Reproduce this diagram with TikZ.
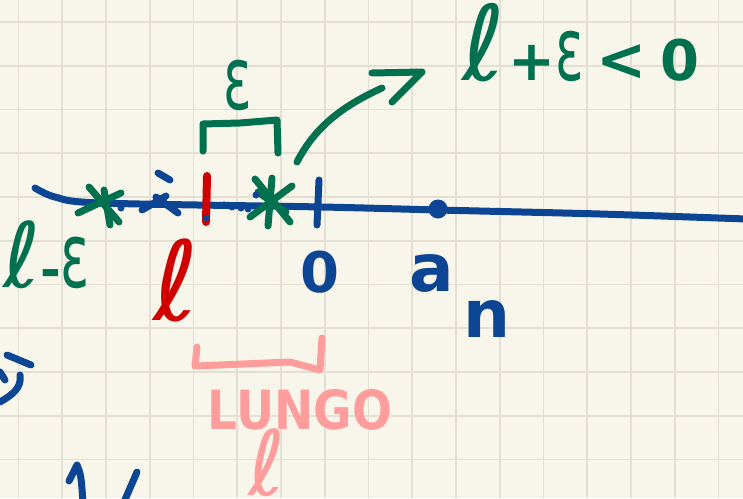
\documentclass[tikz,border=0pt]{standalone}
\usepackage{fontspec}
\setmainfont{DejaVu Sans}
\usepackage{graphicx}
\usepackage{xcolor}
\definecolor{paper}{HTML}{F8F6EB}
\definecolor{gridline}{HTML}{E3E0D3}
\definecolor{inkgreen}{HTML}{00714F}
\definecolor{inkblue}{HTML}{0B4593}
\definecolor{inkred}{HTML}{D10000}
\definecolor{inkpink}{HTML}{FF9D9D}
\usepackage{tikz}
\usetikzlibrary{arrows.meta, calc}
\newcommand{\hand}[1]{\fontsize{#1}{#1}\selectfont}
\newcommand{\handb}[1]{\fontsize{#1}{#1}\selectfont\bfseries}
\newcommand{\neps}[1]{\scalebox{0.6}[1]{\hand{#1}ε}}

\begin{document}
\begin{tikzpicture}[
  x=1pt, y=-1pt,
  pen/.style={line width=7pt, line cap=round, line join=round},
  G/.style={pen, inkgreen},
  B/.style={pen, inkblue},
  R/.style={pen, inkred, line width=8pt},
  P/.style={pen, inkpink},
  T/.style={inner sep=0pt, outer sep=0pt},
  inkdot/.style={circle, fill=inkblue, inner sep=0pt, minimum size=7pt}
]
  \fill[paper] (0,0) rectangle (743,498);
  \useasboundingbox (0,0) rectangle (743,498);
  \foreach \i in {0,...,16}
    \draw[gridline, line width=1.6pt] ({18.5+43.75*\i},0) -- ({18.5+43.75*\i},498);
  \foreach \j in {0,...,10}
    \draw[gridline, line width=1.6pt] (0,{22+43.75*\j}) -- (743,{22+43.75*\j});

  % number line
  \draw[B] plot[smooth] coordinates {(35,188) (55,197) (100,203) (322,207) (438,210) (600,214) (746,219)};
  \draw[R] (207,176) -- (206,222);
  \node[inkdot] (d0) at (206,218) {};
  \draw[B] (319,180) -- (317,225);
  \node[circle, fill=inkblue, inner sep=0pt, minimum size=19pt] (pt) at (438,209) {};

  % scribbles on the line
  \draw[G] (89,187) -- (119,222);
  \draw[G] (78,213) -- (121,193);
  \draw[G] (104,190) -- (110,225);
  \draw[G] (255,179) -- (290,222);
  \draw[G] (250,217) -- (292,186);
  \draw[G] (272,178) -- (268,226);
  \draw[G] (258,192) -- (286,212);
  \draw[B] (158,173) -- (170,180);
  \draw[B] (142,210) -- (166,196);
  \draw[B] (156,197) -- (178,213);
  \foreach \p/\q [count=\k] in {121/208, 224/205, 232/207, 241/208, 248/209, 256/195}
    \node[inkdot] (d\k) at (\p,\q) {};

  % epsilon bracket and arrow
  \draw[G] (203,151) -- (203,124) -- (240,123) -- (277,120) -- (278,153);
  \node[T, inkgreen] (eps) at (238,85) {\neps{88}};
  \coordinate (arrS) at (297,162);
  \coordinate (arrE) at (382,88);
  \coordinate (tip) at (422,72);
  \draw[G] (arrS) .. controls (316,125) and (345,105) .. (arrE);
  \draw[G] ($(tip)+(-50,1)$) -- (tip) -- ($(tip)+(-30,30)$);
  \node[T, inkgreen, anchor=base west] (ineq) at (462,80)
    {{\hand{104}ℓ}\hspace{4pt}{\handb{56}+}\neps{88}\hspace{12pt}{\handb{60}<}\hspace{14pt}{\handb{56}0}};

  % labels under the line
  \node[T, inkgreen, anchor=base west] (lmeps) at (3,287)
    {{\hand{90}ℓ}{\handb{50}-}\neps{90}};
  \node[T, inkred] (ell) at (176,280) {\hand{110}ℓ};
  \node[T, inkblue] (zero) at (320,272) {\handb{56}0};
  \node[T, inkblue, anchor=base west] (an) at (409,291) {\handb{66}a\hspace{0.15em}\raisebox{-0.7em}{n}};

  % pink bracket
  \draw[P] (197,347) -- (195,366) -- (290,362) -- (320,370) -- (322,338);
  \node[T, inkpink] (lungo) at (300,410) {\scalebox{0.87}[1]{\handb{54}LUNGO}};
  \node[T, inkpink, anchor=south] (lell) at (267,497) {\hand{90}ℓ};

  % cut-off strokes at the edges
  \draw[B] (7,355) -- (31,365);
  \draw[B] (20,375) .. controls (22,388) and (12,395) .. (0,402);
  \draw[B] (0,372) -- (5,380);
  \draw[B] (69,481) -- (77,465) .. controls (81,475) .. (83,502);
  \draw[B] (137,472) -- (124,502);
\end{tikzpicture}
\end{document}
